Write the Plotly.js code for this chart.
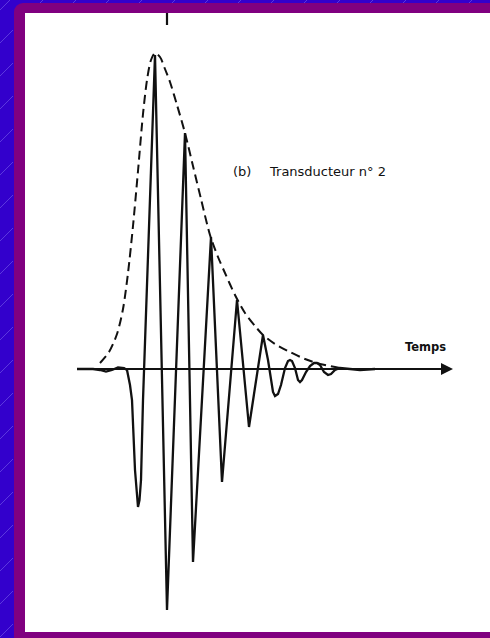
<!DOCTYPE html>
<html>
<head>
<meta charset="utf-8">
<script src="https://cdn.plot.ly/plotly-3.0.1.min.js"></script>
<style>html,body{margin:0;padding:0;background:#3300cc;overflow:hidden;}#chart{width:490px;height:638px;}</style>
</head>
<body>
<div id="chart"></div>
<script>
// ---- Data (time in arbitrary units, amplitude in arbitrary units) ----
const signalTime = [0, 1.6, 2.3, 2.9, 3.5, 4.1, 4.7, 5.0, 5.3, 5.5, 5.8, 6.0, 6.1, 6.25, 6.4, 6.6,
  7.8, 9.0, 10.8, 11.6, 13.4, 14.5, 16.0, 17.2, 18.6, 19.1, 19.4, 19.6, 19.8, 20.1, 20.4, 20.8,
  21.1, 21.3, 21.5, 21.8, 22.1, 22.3, 22.5, 22.9, 23.3, 23.7, 24.0, 24.3, 24.7, 25.1, 25.4, 25.8,
  26.3, 27.1, 28.3, 29.8];
const signalAmp = [0, 0, -0.1, -0.25, -0.1, 0.15, 0.1, -0.1, -1.6, -3.1, -10.1, -13.1, -13.8, -13.1, -11.1, -3.1,
  31.4, -24.1, 23.6, -19.3, 13.2, -11.3, 6.9, -5.8, 3.4, 0.9, -1.1, -2.3, -2.7, -2.5, -1.6, 0.1,
  0.8, 0.9, 0.8, 0.1, -1.1, -1.3, -1.1, -0.3, 0.3, 0.6, 0.6, 0.4, -0.3, -0.6, -0.5, -0.1,
  0.1, 0, -0.1, 0];

const envelopeTime = [2.3, 3.2, 4.0, 4.6, 5.1, 5.6, 6.1, 6.6, 7.0, 7.4, 7.8, 8.3, 8.8, 9.3,
  10.0, 10.8, 11.6, 12.4, 13.3, 14.1, 14.8, 15.8, 16.8, 17.8, 18.6, 19.8, 21.3, 22.8, 24.3, 26.3];
const envelopeAmp = [0.6, 1.7, 3.5, 6.0, 9.6, 14.3, 19.8, 25.5, 28.9, 30.9, 31.6, 31.2, 30.0, 28.7,
  26.4, 23.6, 20.3, 17.0, 13.4, 11.2, 9.6, 7.4, 5.6, 4.3, 3.4, 2.5, 1.7, 1.0, 0.5, 0.1];

const timeAxisStart = 0;
const timeAxisEnd = 37.6;
const ampAxisX = [9.0, 9.0];
const ampAxisY = [34.4, 35.8];

const labelCurve = "(b)";
const labelTransducer = "Transducteur n° 2";
const labelTime = "Temps";

// ---- Layout helpers ----
const W = 490, H = 638;
const PL = 25, PT = 13, PB = 6;            // white panel margins
const PW = W - PL, PH = H - PT - PB;
const X0PX = 77, Y0PX = 369, SCALE = 10;  // pixel position of the time axis origin
const xRange = [(PL - X0PX) / SCALE, (W - X0PX) / SCALE];
const yRange = [(Y0PX - (H - PB)) / SCALE, (Y0PX - PT) / SCALE];
const px = x => (x - PL) / PW;
const py = y => (H - PB - y) / PH;

const BLUE = '#3300cc', PURPLE = '#800080';
const shapes = [];
function rectPx(x0, y0, x1, y1, color, type, layer) {
  shapes.push({type: type || 'rect', xref: 'paper', yref: 'paper', layer: layer || 'below',
    x0: px(x0), y0: py(y0), x1: px(x1), y1: py(y1), fillcolor: color, line: {width: 0}});
}
// faint diagonal texture on the blue strips
for (let c = 10; c <= H; c += 33) {
  shapes.push({type: 'line', xref: 'paper', yref: 'paper', layer: 'below',
    x0: px(0), y0: py(c), x1: px(Math.min(c, 13)), y1: py(c - Math.min(c, 13)),
    line: {color: 'rgba(170,160,255,0.35)', width: 1}});
}
for (let c = 43; c <= W; c += 33) {
  shapes.push({type: 'line', xref: 'paper', yref: 'paper', layer: 'below',
    x0: px(c - 3), y0: py(3), x1: px(c), y1: py(0),
    line: {color: 'rgba(170,160,255,0.35)', width: 1}});
}
// purple frame with rounded top-left corner
rectPx(14, 3, 32, 21, PURPLE, 'circle');
rectPx(14, 12, PL, H, PURPLE);
rectPx(23, 3, W, PT, PURPLE);
rectPx(14, H - PB, W, H, PURPLE);
rectPx(PL, PT, 33, 22, '#ffffff');
// keep the right edge of the white panel clean
rectPx(470, PT, W, H - PB, '#ffffff', 'rect', 'above');

const traces = [
  {x: envelopeTime, y: envelopeAmp, mode: 'lines', type: 'scatter', hoverinfo: 'skip',
   line: {color: '#111111', width: 2, dash: '9px,5px', shape: 'spline', smoothing: 0.8}},
  {x: signalTime, y: signalAmp, mode: 'lines', type: 'scatter', hoverinfo: 'skip',
   line: {color: '#111111', width: 2.3}},
  {x: ampAxisX, y: ampAxisY, mode: 'lines', type: 'scatter', hoverinfo: 'skip',
   line: {color: '#111111', width: 2.2}}
];

const layout = {
  width: W, height: H,
  margin: {l: PL, r: 0, t: PT, b: PB, pad: 0},
  paper_bgcolor: BLUE,
  plot_bgcolor: '#ffffff',
  showlegend: false,
  xaxis: {range: xRange, visible: false, fixedrange: true},
  yaxis: {range: yRange, visible: false, fixedrange: true},
  shapes: shapes,
  annotations: [
    {x: timeAxisEnd, y: 0, ax: timeAxisStart, ay: 0, axref: 'x', ayref: 'y', xref: 'x', yref: 'y',
     text: '', showarrow: true, arrowhead: 2, arrowsize: 1.2, arrowwidth: 2, arrowcolor: '#111111', standoff: 0},
    {x: 15.4, y: 19.8, xref: 'x', yref: 'y', xanchor: 'left', yanchor: 'middle', showarrow: false,
     text: labelCurve, font: {family: 'DejaVu Sans', size: 13, color: '#111111'}},
    {x: 19.0, y: 19.8, xref: 'x', yref: 'y', xanchor: 'left', yanchor: 'middle', showarrow: false,
     text: labelTransducer, font: {family: 'DejaVu Sans', size: 13, color: '#111111'}},
    {x: 32.6, y: 2.2, xref: 'x', yref: 'y', xanchor: 'left', yanchor: 'middle', showarrow: false,
     text: '<b>' + labelTime + '</b>', font: {family: 'DejaVu Sans', size: 11.5, color: '#111111'}}
  ]
};

Plotly.newPlot('chart', traces, layout, {staticPlot: true});
</script>
</body>
</html>
